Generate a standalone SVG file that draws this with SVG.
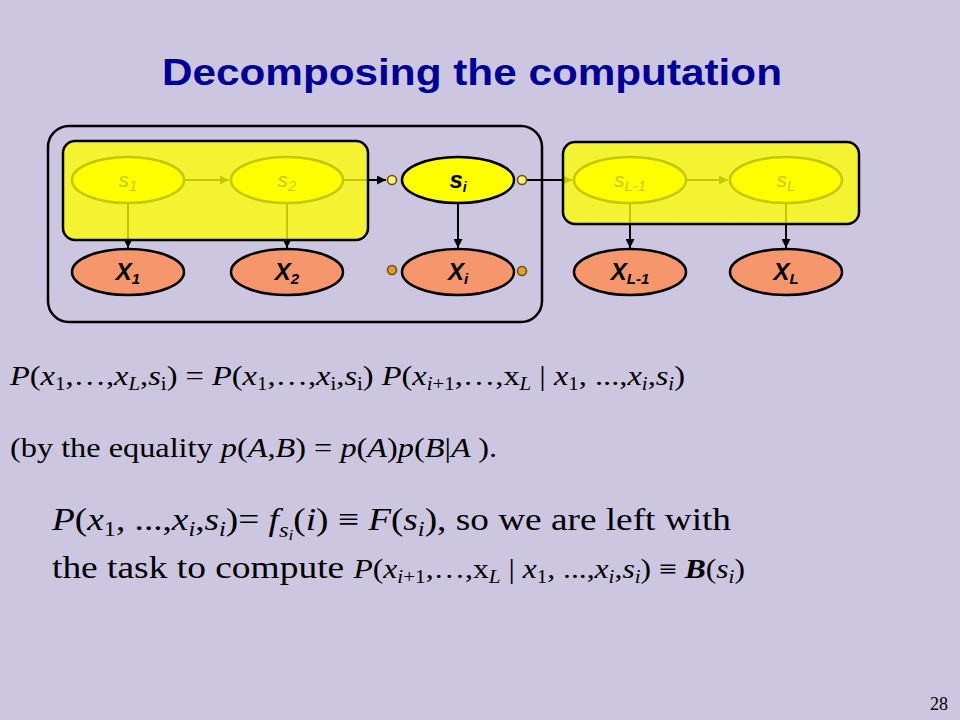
<svg xmlns="http://www.w3.org/2000/svg" width="960" height="720" viewBox="0 0 960 720">
<defs>
<marker id="arr" viewBox="0 0 10 10" refX="10" refY="5" markerWidth="4.5" markerHeight="4.5" orient="auto" markerUnits="strokeWidth">
<path d="M0,0 L10,5 L0,10 z" fill="#000"/>
</marker>
<style>
.sn{fill:#FFFF00;stroke:#000;stroke-width:2.5}
.xn{fill:#F6966C;stroke:#000;stroke-width:2.5}
.cn{stroke:#000;stroke-width:2;fill:none}
.lab{font-family:"Liberation Sans",Arial,sans-serif;font-style:italic;text-anchor:middle;fill:#000}
.lx{font-size:24px;font-weight:bold}
.ls{font-size:21px}
.eq{font-family:"Liberation Serif","Times New Roman",serif;fill:#000}
.i{font-style:italic}
.dotu{fill:#FFF27A;stroke:#6E5200;stroke-width:1.6}
.dotl{fill:#E0A030;stroke:#6E5200;stroke-width:1.6}
</style>
</defs>
<rect x="0" y="0" width="960" height="720" fill="#CCC6E0"/>
<text x="162" y="85" font-family="'Liberation Sans',Arial,sans-serif" font-weight="bold" font-size="36" fill="#000099" textLength="620" lengthAdjust="spacingAndGlyphs">Decomposing the computation</text>

<g id="connectors">
<line class="cn" x1="184" y1="180" x2="229" y2="180" marker-end="url(#arr)"/>
<line class="cn" x1="343" y1="180" x2="386" y2="180" marker-end="url(#arr)"/>
<line class="cn" x1="526" y1="180" x2="572" y2="180" marker-end="url(#arr)"/>
<line class="cn" x1="686" y1="180" x2="728" y2="180" marker-end="url(#arr)"/>
<line class="cn" x1="128" y1="203" x2="128" y2="248" marker-end="url(#arr)"/>
<line class="cn" x1="287" y1="203" x2="287" y2="248" marker-end="url(#arr)"/>
<line class="cn" x1="458" y1="203" x2="458" y2="248" marker-end="url(#arr)"/>
<line class="cn" x1="630" y1="203" x2="630" y2="248" marker-end="url(#arr)"/>
<line class="cn" x1="786" y1="203" x2="786" y2="248" marker-end="url(#arr)"/>
</g>

<g id="node-s1"><ellipse class="sn" cx="128" cy="180" rx="56" ry="23"/><text class="lab ls" x="128" y="187">s<tspan font-size="15" dy="4">1</tspan></text></g>
<g id="node-s2"><ellipse class="sn" cx="287" cy="180" rx="56" ry="23"/><text class="lab ls" x="287" y="187">s<tspan font-size="15" dy="4">2</tspan></text></g>
<g id="node-sL-1"><ellipse class="sn" cx="630" cy="180" rx="56" ry="23"/><text class="lab ls" x="630" y="187">s<tspan font-size="15" dy="4">L-1</tspan></text></g>
<g id="node-sL"><ellipse class="sn" cx="786" cy="180" rx="56" ry="23"/><text class="lab ls" x="786" y="187">s<tspan font-size="15" dy="4">L</tspan></text></g>

<g id="overlay-left"><rect x="63" y="141" width="305" height="99" rx="12" fill="#FFFF00" fill-opacity="0.78" stroke="#000" stroke-width="2.5"/></g>
<g id="overlay-right"><rect x="563" y="142" width="296" height="82" rx="12" fill="#FFFF00" fill-opacity="0.78" stroke="#000" stroke-width="2.5"/></g>
<g id="frame"><rect x="48" y="126" width="494" height="196" rx="21" fill="none" stroke="#000" stroke-width="2.5"/></g>

<g id="node-si"><ellipse class="sn" cx="458" cy="180" rx="56" ry="23"/><text class="lab lx" x="458" y="188" font-size="22">s<tspan font-size="14" dy="4">i</tspan></text></g>
<g id="node-x1"><ellipse class="xn" cx="128" cy="272" rx="56" ry="23"/><text class="lab lx" x="128" y="280">X<tspan font-size="15" dy="4">1</tspan></text></g>
<g id="node-x2"><ellipse class="xn" cx="287" cy="272" rx="56" ry="23"/><text class="lab lx" x="287" y="280">X<tspan font-size="15" dy="4">2</tspan></text></g>
<g id="node-xi"><ellipse class="xn" cx="458" cy="272" rx="56" ry="23"/><text class="lab lx" x="458" y="280">X<tspan font-size="15" dy="4">i</tspan></text></g>
<g id="node-xL-1"><ellipse class="xn" cx="630" cy="272" rx="56" ry="23"/><text class="lab lx" x="630" y="280">X<tspan font-size="15" dy="4">L-1</tspan></text></g>
<g id="node-xL"><ellipse class="xn" cx="786" cy="272" rx="56" ry="23"/><text class="lab lx" x="786" y="280">X<tspan font-size="15" dy="4">L</tspan></text></g>

<g id="ports">
<circle class="dotu" cx="392" cy="180" r="4.5"/>
<circle class="dotu" cx="522" cy="180" r="4.5"/>
<circle class="dotl" cx="392" cy="270" r="4.5"/>
<circle class="dotl" cx="522" cy="271" r="4.5"/>
</g>

<text class="eq" x="10" y="385" font-size="28" textLength="675" lengthAdjust="spacingAndGlyphs"><tspan class="i">P</tspan>(<tspan class="i">x</tspan><tspan font-size="18" dy="5">1</tspan><tspan dy="-5">,…,</tspan><tspan class="i">x</tspan><tspan class="i" font-size="18" dy="5">L</tspan><tspan dy="-5">,</tspan><tspan class="i">s</tspan><tspan font-size="18" dy="5">i</tspan><tspan dy="-5">) =  </tspan><tspan class="i">P</tspan>(<tspan class="i">x</tspan><tspan font-size="18" dy="5">1</tspan><tspan dy="-5">,…,</tspan><tspan class="i">x</tspan><tspan font-size="18" dy="5">i</tspan><tspan dy="-5">,</tspan><tspan class="i">s</tspan><tspan font-size="18" dy="5">i</tspan><tspan dy="-5">) </tspan><tspan class="i">P</tspan>(<tspan class="i">x</tspan><tspan font-size="18" dy="5"><tspan class="i">i</tspan>+1</tspan><tspan dy="-5">,…,x</tspan><tspan class="i" font-size="18" dy="5">L</tspan><tspan dy="-5"> | </tspan><tspan class="i">x</tspan><tspan font-size="18" dy="5">1</tspan><tspan dy="-5">, ...,</tspan><tspan class="i">x</tspan><tspan class="i" font-size="18" dy="5">i</tspan><tspan dy="-5">,</tspan><tspan class="i">s</tspan><tspan class="i" font-size="18" dy="5">i</tspan><tspan dy="-5">)</tspan></text>

<text class="eq" x="10" y="457" font-size="28" textLength="487" lengthAdjust="spacingAndGlyphs">(by the equality <tspan class="i">p</tspan>(<tspan class="i">A</tspan>,<tspan class="i">B</tspan>) = <tspan class="i">p</tspan>(<tspan class="i">A</tspan>)<tspan class="i">p</tspan>(<tspan class="i">B</tspan>|<tspan class="i">A </tspan>).</text>

<text class="eq" x="52" y="530" font-size="32" textLength="679" lengthAdjust="spacingAndGlyphs"><tspan class="i">P</tspan>(<tspan class="i">x</tspan><tspan font-size="21" dy="6">1</tspan><tspan dy="-6">, ...,</tspan><tspan class="i">x</tspan><tspan class="i" font-size="21" dy="6">i</tspan><tspan dy="-6">,</tspan><tspan class="i">s</tspan><tspan class="i" font-size="21" dy="6">i</tspan><tspan dy="-6">)= </tspan><tspan class="i">f</tspan><tspan class="i" font-size="21" dy="7">s</tspan><tspan class="i" font-size="15" dy="3">i</tspan><tspan dy="-10">(</tspan><tspan class="i">i</tspan>) ≡ <tspan class="i">F</tspan>(<tspan class="i">s</tspan><tspan class="i" font-size="21" dy="6">i</tspan><tspan dy="-6">), so we are left with</tspan></text>

<text class="eq" x="52" y="578" font-size="32" textLength="693" lengthAdjust="spacingAndGlyphs">the task to compute <tspan font-size="27"><tspan class="i">P</tspan>(<tspan class="i">x</tspan><tspan font-size="18" dy="5"><tspan class="i">i</tspan>+1</tspan><tspan dy="-5">,…,x</tspan><tspan class="i" font-size="18" dy="5">L</tspan><tspan dy="-5"> | </tspan><tspan class="i">x</tspan><tspan font-size="18" dy="5">1</tspan><tspan dy="-5">, ...,</tspan><tspan class="i">x</tspan><tspan class="i" font-size="18" dy="5">i</tspan><tspan dy="-5">,</tspan><tspan class="i">s</tspan><tspan class="i" font-size="18" dy="5">i</tspan><tspan dy="-5">) ≡ </tspan><tspan class="i" font-weight="bold">B</tspan>(<tspan class="i">s</tspan><tspan class="i" font-size="18" dy="5">i</tspan><tspan dy="-5">)</tspan></tspan></text>

<text class="eq" x="948" y="710" font-size="18" text-anchor="end">28</text>
</svg>
